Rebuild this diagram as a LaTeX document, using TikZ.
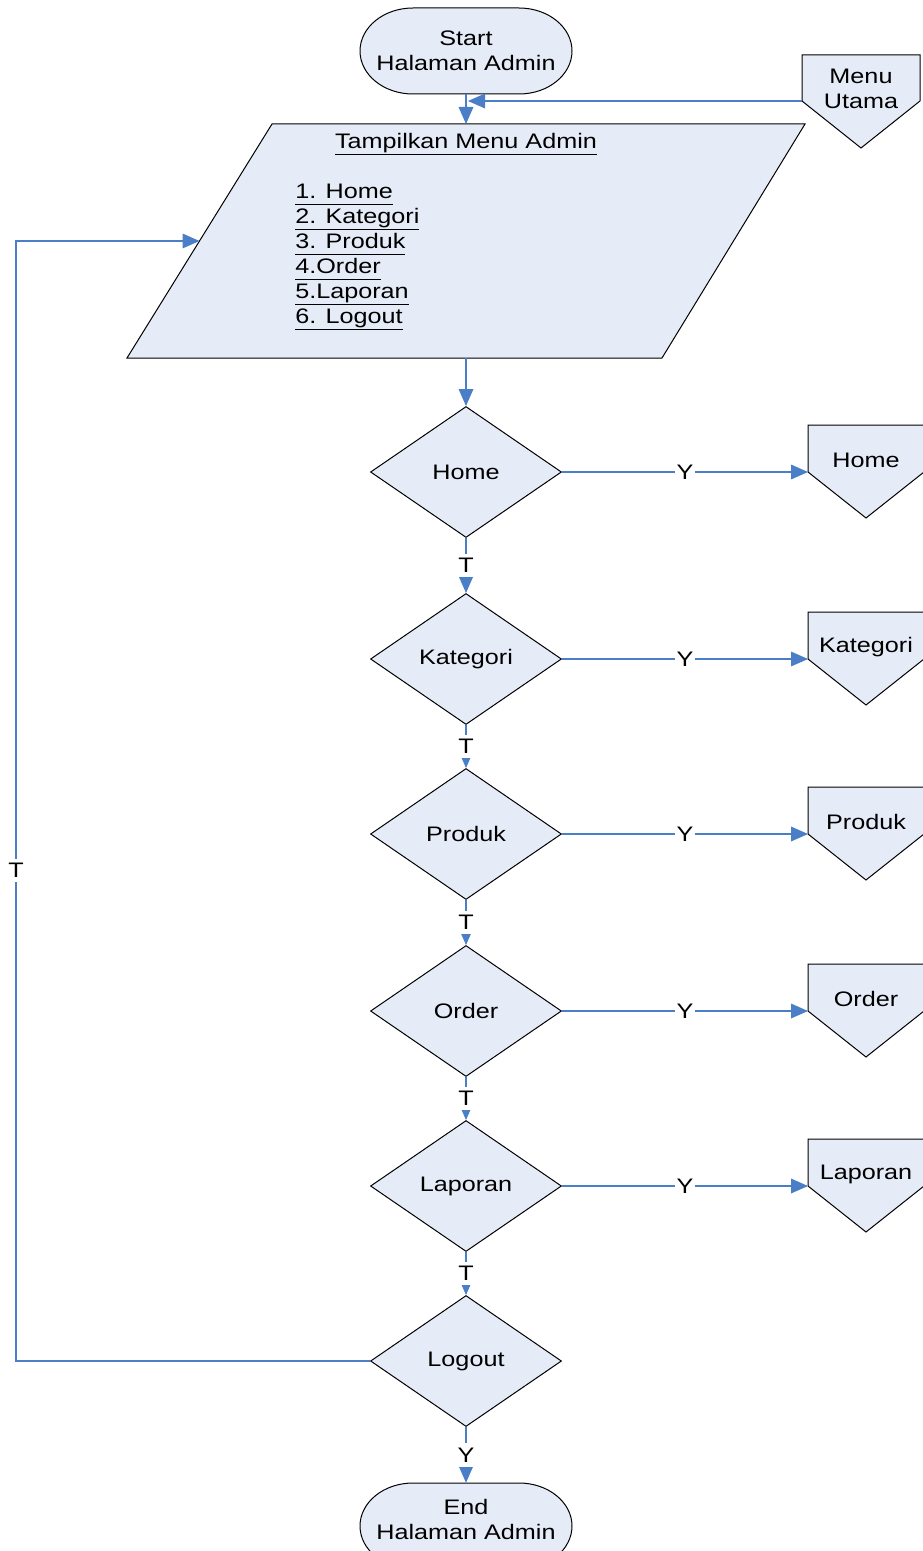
\documentclass[tikz,border=0pt]{standalone}
\usepackage{fontspec}
\setmainfont{Liberation Sans}[FakeStretch=1.2]
\usetikzlibrary{arrows.meta,shapes.geometric,calc}

\definecolor{flowfill}{RGB}{230,236,247}
\definecolor{flowline}{RGB}{74,126,199}

\newcommand\flowfont{\fontsize{15.75pt}{18.75pt}\selectfont}
\newcommand\menuline[1]{\underline{#1\vphantom{p}}}

% off-page connector: name, x centre, y of the lower side corners, label
\newcommand\drawOffPage[4]{%
  \draw[boxline] (#2-58,#3-47) -- (#2+58,#3-47) -- (#2+58,#3) -- (#2,#3+46) -- (#2-58,#3) -- cycle;
  \node[flowtext] (#1) at (#2,#3-12) {#4};
  \coordinate (#1-in) at (#2-58,#3);
}

\tikzset{
  boxline/.style={draw=black, line width=0.75pt, fill=flowfill},
  flowtext/.style={font=\flowfont, inner sep=0pt, align=center},
  conn/.style={draw=flowline, line width=0.9pt, -{Triangle[length=12.75pt,width=11pt]}},
  lbl/.style={fill=white, inner xsep=1.5pt, inner ysep=3.5pt, font=\flowfont},
  decision/.style={diamond, draw=black, line width=0.75pt, fill=flowfill,
    minimum width=143.25pt, minimum height=98.25pt, inner sep=0pt, aspect=1.45, font=\flowfont},
}

\begin{document}
\begin{tikzpicture}[x=0.75pt,y=-0.75pt]
\useasboundingbox (0,0) rectangle (923,1551);

% start terminal
\draw[boxline] (413,8) -- (519,8) arc[start angle=-90, end angle=90, x radius=53, y radius=43]
  -- (413,94) arc[start angle=90, end angle=270, x radius=53, y radius=43] -- cycle;
\node[flowtext, minimum width=157.5pt, minimum height=64.5pt] (start) at (466,51) {Start\\Halaman Admin};

% menu utama connector
\draw[boxline] (802,55) -- (920,55) -- (920,101) -- (861,148) -- (802,101) -- cycle;
\node[flowtext] (utama) at (861,88.5) {Menu\\Utama};
\coordinate (utama-in) at (802,101);
\coordinate (join) at (468,101);

% admin menu (parallelogram)
\coordinate (ptl) at (272,124);
\coordinate (ptr) at (805,124);
\coordinate (pbr) at (662,358);
\coordinate (pbl) at (127,358);
\draw[boxline] (ptl) -- (ptr) -- (pbr) -- (pbl) -- cycle;
\coordinate (menuTop) at (466,124);
\coordinate (menuBot) at (466,358);
\coordinate (menuLeft) at ($(ptl)!0.5!(pbl)$);
\node[flowtext, anchor=base] (menuTitle) at (466,148.5) {\menuline{Tampilkan Menu Admin}};
\node[flowtext, align=left, anchor=north west] (menuList) at (295,183.5)
  {\menuline{1. Home}\\\menuline{2. Kategori}\\\menuline{3. Produk}\\\menuline{4.Order}\\\menuline{5.Laporan}\\\menuline{6. Logout}};

% decisions
\node[decision] (dHome) at (466,472) {Home};
\node[decision] (dKat)  at (466,659) {Kategori};
\node[decision] (dProd) at (466,834) {Produk};
\node[decision] (dOrd)  at (466,1011) {Order};
\node[decision] (dLap)  at (466,1186) {Laporan};
\node[decision] (dOut)  at (466,1361) {Logout};

% off-page targets
\drawOffPage{oHome}{866}{472}{Home}
\drawOffPage{oKat}{866}{659}{Kategori}
\drawOffPage{oProd}{866}{834}{Produk}
\drawOffPage{oOrd}{866}{1011}{Order}
\drawOffPage{oLap}{866}{1186}{Laporan}

% end terminal
\draw[boxline] (413,1483) -- (519,1483) arc[start angle=-90, end angle=90, x radius=53, y radius=43]
  -- (413,1569) arc[start angle=90, end angle=270, x radius=53, y radius=43] -- cycle;
\node[flowtext, minimum height=54pt] (end) at (466,1519) {End\\Halaman Admin};

% connectors
\draw[conn] (start.south) -- (menuTop);
\draw[conn] (utama-in) -- (join);
\draw[conn] (menuBot) -- (dHome.north);

\draw[conn] (dHome.east) -- node[lbl] {Y} (oHome-in);
\draw[conn] (dKat.east)  -- node[lbl] {Y} (oKat-in);
\draw[conn] (dProd.east) -- node[lbl] {Y} (oProd-in);
\draw[conn] (dOrd.east)  -- node[lbl] {Y} (oOrd-in);
\draw[conn] (dLap.east)  -- node[lbl] {Y} (oLap-in);

\draw[conn] (dHome.south) -- node[lbl] {T} (dKat.north);
\draw[conn] (dKat.south)  -- node[lbl] {T} (dProd.north);
\draw[conn] (dProd.south) -- node[lbl] {T} (dOrd.north);
\draw[conn] (dOrd.south)  -- node[lbl] {T} (dLap.north);
\draw[conn] (dLap.south)  -- node[lbl] {T} (dOut.north);

\draw[conn] (dOut.south) -- node[lbl] {Y} (end.north);
\draw[conn] (dOut.west) -- (16,1361) -- node[lbl, pos=0.438] {T} (16,241) -- (menuLeft);
\end{tikzpicture}
\end{document}
